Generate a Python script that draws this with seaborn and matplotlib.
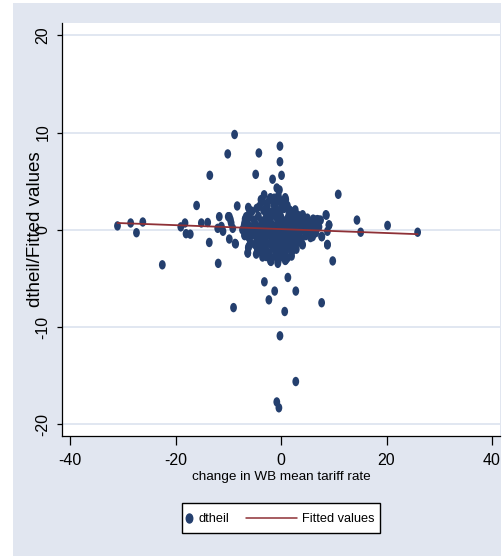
import numpy as np
import pandas as pd
import matplotlib
matplotlib.use("Agg")
import matplotlib.pyplot as plt
import seaborn as sns
from matplotlib.path import Path
from matplotlib.transforms import Affine2D
from matplotlib.lines import Line2D
from matplotlib.patches import Rectangle
from matplotlib.legend_handler import HandlerBase

# ---------------- data ----------------
# outlying / peripheral observations
x_outer = [-8.8, -10.1, -4.2, -0.2, -0.2, 0.1, -13.5, -4.8, -1.6, 10.85, -16.0, -8.3,
           -31.0, -28.5, -27.4, -26.2, -22.5, -19.0, -18.2, -18.0, -17.2, -15.1, -13.9,
           -13.6, -11.9, -11.7, 14.4, 15.1, 20.2, 25.9, 9.8, 8.6, 9.1, 8.8, 7.7,
           -3.15, 1.3, -1.2, -2.3, 2.8, 7.7, -9.0, 0.7, -0.2, 2.8, -0.8, -0.4,
           -8.7, -9.8, -10.0, -9.6, -6.2, -6.3, -4.7, -3.1, -2.0, 2.0, 0.8, -0.6,
           4.0, 5.9, 6.9, -11.3, -11.0, -12.0, -9.45, -9.15, -9.8, -8.6, -6.0,
           -6.6, -6.9, -7.3, -6.9, -6.1, -6.3, -4.4, -4.1, -3.8, -3.2, -1.3,
           -0.8, -0.3, 0.9, 1.6, 2.7, 4.1, 5.0, 6.6, 7.2, 8.5, 9.1, 8.8, 7.75,
           8.8, 4.1, 6.0, -1.9, -0.6, 0.9, -2.8]
y_outer = [9.8, 7.8, 7.9, 8.6, 7.0, 5.6, 5.6, 5.7, 5.2, 3.65, 2.5, 2.45,
           0.4, 0.7, -0.3, 0.8, -3.6, 0.3, 0.7, -0.4, -0.45, 0.7, 0.75,
           -1.3, -3.45, 1.35, 1.0, -0.25, 0.45, -0.25, -3.2, 1.5, 0.5, -1.5, -0.7,
           -5.35, -4.9, -6.3, -7.2, -6.3, -7.5, -8.0, -8.4, -10.9, -15.6, -17.7, -18.3,
           -1.4, -0.95, 1.35, 1.05, -1.85, -2.35, -2.5, -2.5, -3.2, -2.7, -3.15, -3.3,
           -1.5, -0.6, 1.05, 0.35, -0.15, 0.15, 0.7, 0.15, 1.35, -1.45, 2.05,
           1.35, 0.7, 0.0, -0.5, -1.7, -2.4, -2.05, 2.4, 3.1, 3.6, 3.25,
           4.3, 4.1, 3.1, 2.05, 2.05, 1.55, 1.2, 1.0, 1.0, 1.55, 0.5, -0.15, -0.7,
           -1.55, -1.55, -0.7, -3.25, -3.45, -3.1, -2.75]

# dense core of observations
x_core = [-3.5, -2.2, -1.0, 0.3, 1.2, -0.5, 0.8,
          -5.5, -4.6, -3.3, -2.6, -1.8, -0.9, -0.2, 0.6, 1.5, 2.4, 3.2, -6.2,
          -6.8, -6.0, -5.1, -4.3, -3.7, -2.9, -2.1, -1.4, -0.7, 0.0, 0.7, 1.3, 2.0, 2.8, 3.6, 4.4, 5.2, 6.1, 6.8, 7.5,
          -7.0, -6.3, -5.6, -4.9, -4.1, -3.4, -2.6, -1.9, -1.2, -0.5, 0.2, 0.9, 1.6, 2.3, 3.0, 3.8, 4.6, 5.4, 6.3, 7.2,
          -6.6, -5.8, -5.0, -4.4, -3.7, -3.0, -2.3, -1.6, -0.9, -0.2, 0.5, 1.1, 1.8, 2.6, 3.3, 4.1, 4.9, 5.7, 6.6,
          -6.9, -6.1, -5.3, -4.6, -3.9, -3.2, -2.5, -1.8, -1.1, -0.4, 0.3, 1.0, 1.7, 2.4, 3.1, 3.9, 4.7, 5.6,
          -5.8, -5.0, -4.2, -3.5, -2.8, -2.0, -1.3, -0.6, 0.1, 0.8, 1.5, 2.2, 3.0, 3.7,
          -4.5, -3.8, -2.9, -2.2, -1.5, -0.8, 0.0, 0.7, 1.4, 2.1, 2.9,
          -3.5, -2.6, -1.7, -1.0, -0.2, 0.5, 1.2,
          -1.5, -0.6, 0.4, 1.2, -0.3, -1.1, 0.6, -2.4, 0.1, -0.8, 1.9, -3.0, 2.7, -1.4, -0.1, 0.9, -0.5, -2.0, -2.7]
y_core = [2.9, 3.1, 2.7, 2.9, 2.5, 3.5, 3.3,
          1.9, 2.2, 2.0, 2.4, 1.8, 2.1, 1.7, 2.2, 1.6, 1.8, 1.5, 2.3,
          1.1, 1.3, 1.0, 1.4, 0.9, 1.2, 1.0, 1.5, 1.1, 1.3, 0.9, 1.2, 1.0, 1.3, 0.9, 1.2, 0.8, 1.1, 0.8, 1.0,
          0.4, 0.6, 0.3, 0.6, 0.3, 0.5, 0.4, 0.7, 0.3, 0.6, 0.4, 0.6, 0.3, 0.5, 0.7, 0.4, 0.5, 0.3, 0.5, 0.3,
          -0.1, 0.0, -0.2, 0.0, -0.1, 0.1, -0.2, 0.0, -0.1, 0.1, -0.2, 0.0, -0.1, 0.1, -0.2, 0.0, -0.1, 0.1, -0.3,
          -0.6, -0.8, -0.5, -0.9, -0.6, -0.8, -0.5, -0.9, -0.6, -0.8, -0.5, -0.9, -0.6, -0.8, -0.5, -0.9, -0.6, -0.8,
          -1.3, -1.5, -1.2, -1.6, -1.3, -1.5, -1.2, -1.6, -1.3, -1.5, -1.2, -1.6, -1.3, -1.1,
          -2.0, -2.3, -2.0, -2.4, -1.9, -2.2, -2.0, -2.3, -1.9, -2.2, -2.0,
          -2.8, -2.7, -2.9, -2.6, -2.8, -2.6, -2.9,
          0.4, 0.9, 0.8, -0.3, -0.4, -1.0, -1.0, 1.6, 2.4, 1.9, 1.9, -1.0, -1.1, 2.6, 3.0, -2.6, -3.1, 3.3, 2.7]

# fitted (linear prediction) values at the ends of the x range
fit_x = [-31.0, 25.9]
fit_y = [0.70, -0.45]

x_ticks = [-40, -20, 0, 20, 40]
y_ticks = [-20, -10, 0, 10, 20]

scatter_df = pd.DataFrame({"x": x_outer + x_core, "dtheil": y_outer + y_core})
fit_df = pd.DataFrame({"x": fit_x, "fitted": fit_y})

# ---------------- style ----------------
sns.set_style("ticks")
plt.rcParams["font.family"] = ["Liberation Sans", "DejaVu Sans"]
plt.rcParams["text.color"] = "black"
plt.rcParams["xtick.color"] = "black"
plt.rcParams["ytick.color"] = "black"
plt.rcParams["axes.labelcolor"] = "black"

NAVY = "#243F6E"
MAROON = "#8E3036"
BG = "#E1E6F0"
GRID = "#DCE3EF"

W, H = 503, 556
fig = plt.figure(figsize=(W / 100, H / 100), dpi=100)
fig.patch.set_facecolor("white")
bg_rect = Rectangle((13 / W, 0), (501 - 13) / W, (H - 3) / H,
                    transform=fig.transFigure, facecolor=BG,
                    edgecolor="none", zorder=-10)
fig.add_artist(bg_rect)

L, R, T, B = 62.3, 500.3, 23.3, 436.0
ax = fig.add_axes([L / W, 1 - B / H, (R - L) / W, (B - T) / H])
ax.set_zorder(1)
ax.set_facecolor("white")

ell = Path.unit_circle().transformed(Affine2D().scale(0.72, 1.0))

sns.scatterplot(data=scatter_df, x="x", y="dtheil", ax=ax, marker=ell, s=46,
                color=NAVY, edgecolor="none", linewidth=0, zorder=3, legend=False)
sns.lineplot(data=fit_df, x="x", y="fitted", ax=ax, color=MAROON, linewidth=1.3,
             zorder=4, legend=False)

ax.set_xlim(-41.46, 41.57)
ax.set_ylim(-21.2, 21.23)
ax.set_xticks(x_ticks)
ax.set_yticks(y_ticks)
ax.set_xticklabels([str(v) for v in x_ticks])
ax.set_yticklabels([str(v) for v in y_ticks])

ax.yaxis.grid(True, color=GRID, linewidth=1.2)
ax.xaxis.grid(False)
ax.set_axisbelow(True)

for s in ["top", "right"]:
    ax.spines[s].set_visible(False)
for s in ["left", "bottom"]:
    ax.spines[s].set_color("black")
    ax.spines[s].set_linewidth(0.9)

ax.tick_params(axis="x", length=6.5, width=0.9, color="black", labelcolor="black",
               labelsize=11.5, pad=6, direction="out")
ax.tick_params(axis="y", length=3.5, width=0.9, color="black", labelcolor="black",
               labelsize=11.5, pad=5, direction="out", labelrotation=90)
for lab in ax.get_yticklabels():
    lab.set_va("center")

ax.set_xlabel("change in WB mean tariff rate", fontsize=9.7, labelpad=2,
              color="black")
ax.set_ylabel("")
ax.text((36 - L) / (R - L), 0.5, "dtheil/Fitted values", rotation=90,
        transform=ax.transAxes, ha="center", va="center", fontsize=13.5,
        color="black")


# ---------------- legend ----------------
class DotHandler(HandlerBase):
    def create_artists(self, legend, orig_handle, xdescent, ydescent, width,
                       height, fontsize, trans):
        m = Line2D([-xdescent + 1.5], [height / 2 - ydescent], marker=ell,
                   markersize=6.5, color=NAVY, linestyle="none", transform=trans)
        return [m]


class LongLineHandler(HandlerBase):
    def create_artists(self, legend, orig_handle, xdescent, ydescent, width,
                       height, fontsize, trans):
        yy = height / 2 - ydescent
        ln = Line2D([-xdescent - 33, width - xdescent], [yy, yy], color=MAROON,
                    linewidth=1.1, transform=trans)
        return [ln]


h_dot = Line2D([], [], color=NAVY, marker="o", linestyle="none")
h_line = Line2D([], [], color=MAROON)
leg = fig.legend([h_dot, h_line], ["dtheil", "Fitted values"],
                 handler_map={h_dot: DotHandler(), h_line: LongLineHandler()},
                 loc="center", bbox_to_anchor=(281 / W, 1 - 518 / H), ncol=2,
                 fontsize=9.2, frameon=True, fancybox=False, handlelength=0.4,
                 handleheight=2.1, handletextpad=0.45, columnspacing=4.9,
                 borderpad=0.4, borderaxespad=0)
leg.get_frame().set_edgecolor("black")
leg.get_frame().set_linewidth(1.0)
leg.get_frame().set_facecolor("white")
leg.get_frame().set_alpha(1)
for t in leg.get_texts():
    t.set_color("black")

fig.savefig("out.png", dpi=100, facecolor=fig.get_facecolor())
